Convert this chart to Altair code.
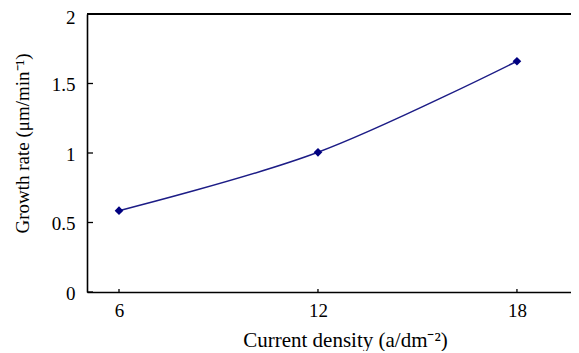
import altair as alt
import pandas as pd

current_density = [6, 12, 18]
growth_rate = [0.585, 1.005, 1.66]
x_ticks = [6, 12, 18]
y_ticks = [0, 0.5, 1, 1.5, 2]

W, H = 484, 278
FONT = "Liberation Serif"
NAVY = "#000080"

df = pd.DataFrame({"x": current_density, "y": growth_rate})
xs = alt.Scale(domain=[5.035, 19.63], nice=False, zero=False)
ys = alt.Scale(domain=[0, 2], nice=False)

line = alt.Chart(df).mark_line(color="#1c1c86", strokeWidth=1.5, interpolate="cardinal").encode(
    x=alt.X("x:Q", scale=xs,
            axis=alt.Axis(values=x_ticks, ticks=False, grid=False, domainColor="black",
                          domainWidth=1.6, labelPadding=9, labelFont=FONT, labelFontSize=19,
                          labelColor="black", format="~g", title="Current density (a/dm⁻²)",
                          titleFont=FONT, titleFontSize=21, titleFontWeight="normal",
                          titleColor="black", titleX=258, titleY=48, titleBaseline="middle")),
    y=alt.Y("y:Q", scale=ys,
            axis=alt.Axis(values=y_ticks, ticks=False, grid=False, domainColor="black",
                          domainWidth=1.6, labelPadding=12, labelFont=FONT, labelFontSize=19,
                          labelColor="black", format="~g",
                          labelOffset={"condition": {"test": "datum.value == 2", "value": 3}, "value": 1},
                          title="Growth rate (μm/min⁻¹)",
                          titleFont=FONT, titleFontSize=19, titleFontWeight="normal",
                          titleColor="black", titleX=-65, titleY=129, titleBaseline="middle",
                          titleAngle=-90, titleAlign="center")),
)

pts = alt.Chart(df).mark_point(shape="diamond", filled=True, color=NAVY, size=75, opacity=1).encode(
    x=alt.X("x:Q", scale=xs), y=alt.Y("y:Q", scale=ys)
)

ytick_df = pd.DataFrame({"v": y_ticks})
ytk = alt.Chart(ytick_df).mark_rule(color="black", strokeWidth=1.3).encode(
    y=alt.Y("v:Q", scale=ys), x=alt.value(0), x2=alt.value(6)
)
xtick_df = pd.DataFrame({"v": x_ticks})
xtk = alt.Chart(xtick_df).mark_rule(color="black", strokeWidth=1.3).encode(
    x=alt.X("v:Q", scale=xs), y=alt.value(H), y2=alt.value(H - 3)
)
top = alt.Chart(ytick_df).mark_rule(color="black", strokeWidth=1.6).encode(
    y=alt.value(0), x=alt.value(0), x2=alt.value(W)
)

chart = alt.layer(line, pts, ytk, xtk, top).properties(
    width=W, height=H,
    autosize=alt.AutoSizeParams(type="none"),
    padding={"left": 79, "top": 6, "right": 0, "bottom": 59},
).configure_view(stroke=None)

chart.save("out.html", embed_options={"renderer": "svg", "actions": False})
